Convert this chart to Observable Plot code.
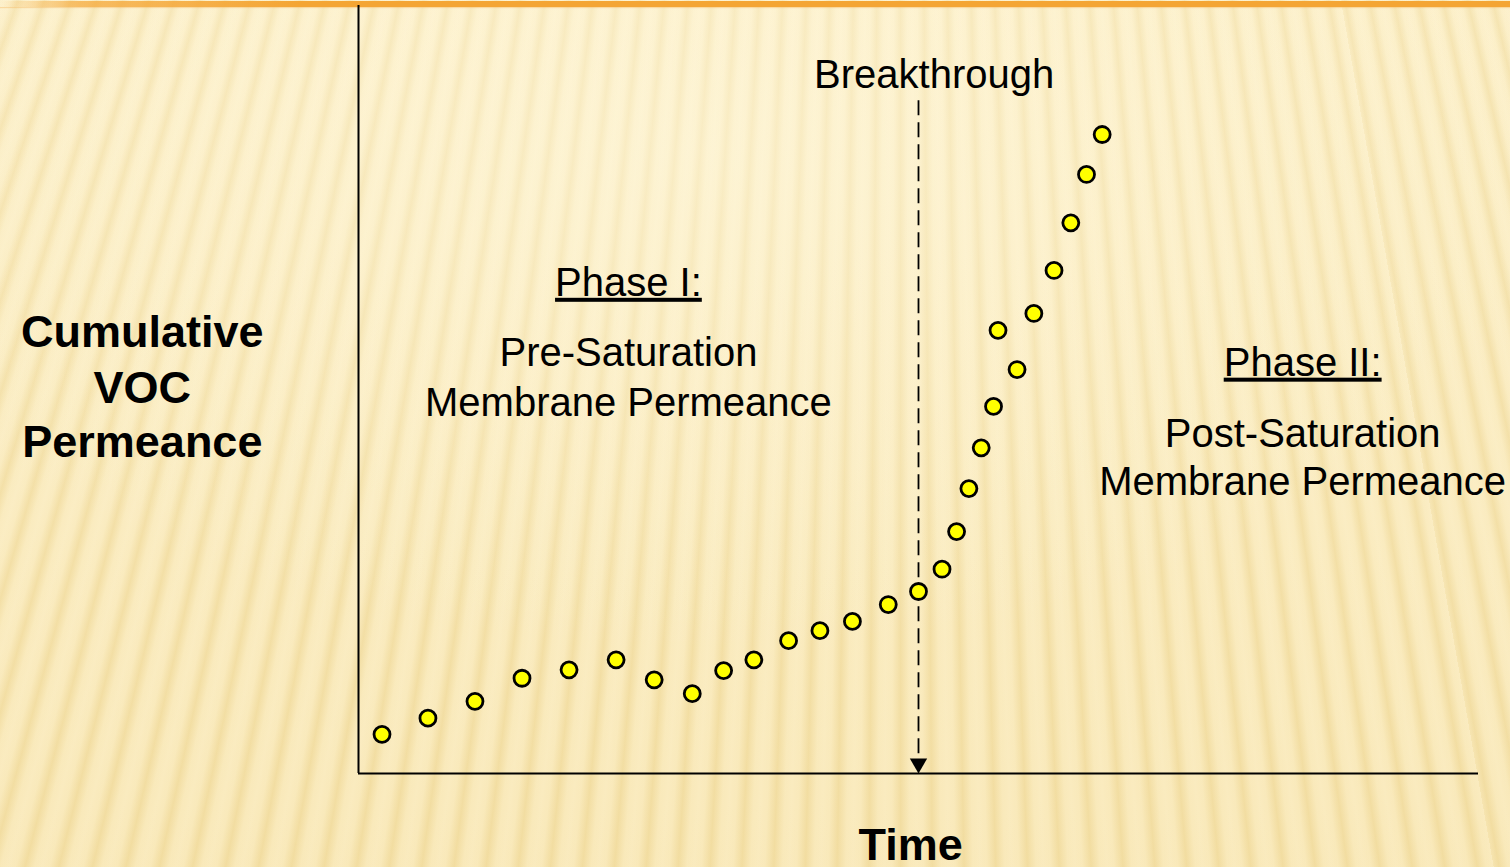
<!DOCTYPE html>
<html>
<head>
<meta charset="utf-8">
<script src="https://cdn.jsdelivr.net/npm/d3@7"></script>
<script src="https://cdn.jsdelivr.net/npm/@observablehq/plot@0.6"></script>
<style>
  html, body { margin: 0; padding: 0; }
  body {
    width: 1510px; height: 867px; overflow: hidden; position: relative;
    background:
      radial-gradient(ellipse 900px 500px at 700px 150px, rgba(255,249,225,0.45), rgba(255,249,225,0)),
      linear-gradient(to bottom, rgba(255,247,220,0.2), rgba(236,208,130,0.15)),
      repeating-conic-gradient(from 170deg at 900px -2500px, #FCEFC8 0deg, #FBEDC3 0.12deg, #F3DFA6 0.27deg, #FBEDC3 0.42deg, #FCEFC8 0.54deg);
  }
  #topbar {
    position: absolute; left: 0; top: 1px; width: 1510px; height: 6px;
    background: linear-gradient(to right, rgba(245,166,52,0) 0px, rgba(245,166,52,0.7) 80px, #F4A534 300px, #F4A534 1510px);
    box-shadow: 0 1px 1px rgba(245,180,90,0.4);
  }
  #chart { position: absolute; left: 0; top: 0; }
</style>
</head>
<body>
<div id="topbar"></div>
<div id="chart"></div>
<script>
// Measured points (time, cumulative permeance) in arbitrary units
const times = [2.1, 6.2, 10.4, 14.6, 18.8, 23.0, 26.4, 29.8, 32.6, 35.3, 38.4, 41.2, 44.1, 47.3, 50.0, 52.1, 53.4, 54.5, 55.6, 56.7, 58.8, 57.1, 60.3, 62.1, 63.6, 65.0, 66.4];
const permeance = [5.1, 7.2, 9.4, 12.4, 13.5, 14.8, 12.2, 10.4, 13.4, 14.8, 17.3, 18.6, 19.8, 22.0, 23.7, 26.6, 31.5, 37.1, 42.4, 47.8, 52.6, 57.7, 59.9, 65.5, 71.7, 78.0, 83.2];

// Breakthrough marker
const breakthroughTime = 50;
const breakthroughTop = 87.6;

// Annotations
const labelText = ["Breakthrough", "Phase I:", "Pre-Saturation", "Membrane Permeance", "Phase II:", "Post-Saturation", "Membrane Permeance"];
const labelX = [51.4, 24.1, 24.1, 24.1, 84.3, 84.3, 84.3];
const labelY = [89.2, 62.2, 53.0, 46.6, 51.8, 42.5, 36.2];

const titleText = ["Cumulative", "VOC", "Permeance", "Time"];
const titleX = [-19.3, -19.3, -19.3, 49.3];
const titleY = [55.5, 48.3, 41.2, -11.3];

const points = times.map((t, i) => ({t, v: permeance[i]}));
const labels = labelText.map((s, i) => ({s, x: labelX[i], y: labelY[i]}));
const titles = titleText.map((s, i) => ({s, x: titleX[i], y: titleY[i]}));

const triangleDown = {
  draw(ctx, size) {
    const y = Math.sqrt(size / (Math.sqrt(3) * 3));
    ctx.moveTo(0, 2 * y);
    ctx.lineTo(-Math.sqrt(3) * y, -y);
    ctx.lineTo(Math.sqrt(3) * y, -y);
    ctx.closePath();
  }
};

const font = "'Liberation Sans', Arial, Helvetica, sans-serif";

const plot = Plot.plot({
  width: 1510,
  height: 867,
  marginLeft: 358,
  marginRight: 32,
  marginTop: 5,
  marginBottom: 94,
  style: {background: "transparent", overflow: "visible"},
  x: {domain: [0, 100], axis: null},
  y: {domain: [0, 100], axis: null},
  marks: [
    Plot.ruleY([0], {x1: 0, x2: 100, stroke: "#000", strokeWidth: 2}),
    Plot.ruleX([0], {y1: 0, y2: 100, stroke: "#000", strokeWidth: 2}),
    Plot.ruleX([breakthroughTime], {y1: breakthroughTop, y2: 1.8, stroke: "#000", strokeWidth: 1.8, strokeDasharray: "15,7"}),
    Plot.dot([breakthroughTime], {x: d => d, y: 1.3, symbol: triangleDown, r: 6.43, fill: "#000", stroke: "none"}),
    Plot.dot(points, {x: "t", y: "v", r: 8, fill: "#FFFF00", stroke: "#000", strokeWidth: 2.8}),
    Plot.text(labels, {x: "x", y: "y", text: "s", lineAnchor: "bottom", textAnchor: "middle", fontSize: 40, fontFamily: font, fill: "#000"}),
    Plot.text(titles, {x: "x", y: "y", text: "s", lineAnchor: "bottom", textAnchor: "middle", fontSize: 45, fontWeight: "bold", fontFamily: font, fill: "#000"})
  ]
});

d3.select(plot).selectAll("text")
  .filter(function() { return this.textContent.startsWith("Phase"); })
  .style("text-decoration", "underline");

document.getElementById("chart").appendChild(plot);
</script>
</body>
</html>
